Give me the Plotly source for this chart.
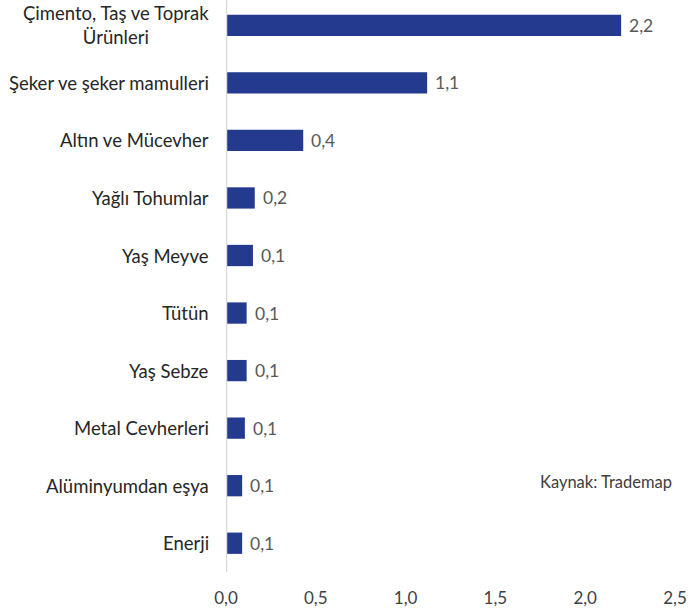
import plotly.graph_objects as go

# categories top to bottom
categories = [
    "Çimento, Taş ve Toprak<br>Ürünleri",
    "Şeker ve şeker mamulleri",
    "Altın ve Mücevher",
    "Yağlı Tohumlar",
    "Yaş Meyve",
    "Tütün",
    "Yaş Sebze",
    "Metal Cevherleri",
    "Alüminyumdan eşya",
    "Enerji",
]
values = [2.2, 1.12, 0.43, 0.16, 0.15, 0.115, 0.115, 0.105, 0.09, 0.09]
value_labels = ["2,2", "1,1", "0,4", "0,2", "0,1", "0,1", "0,1", "0,1", "0,1", "0,1"]
tick_vals = [0, 0.5, 1.0, 1.5, 2.0, 2.5]
tick_text = ["0,0", "0,5", "1,0", "1,5", "2,0", "2,5"]

font = "Lato, 'Open Sans', sans-serif"
bar_color = "#233A8E"

fig = go.Figure(go.Bar(
    x=values,
    y=list(range(len(categories))),
    orientation="h",
    marker=dict(color=bar_color, line=dict(width=0)),
    width=0.37,
    hoverinfo="skip",
))

annotations = []
for i, (cat, v, lab) in enumerate(zip(categories, values, value_labels)):
    # category label left of axis
    annotations.append(dict(
        x=0, y=i, xref="x", yref="y", text=cat, showarrow=False,
        xanchor="right", yanchor="middle", xshift=-15, align="center",
        font=dict(family=font, size=18.5, color="#262626"),
    ))
    # value label at bar end
    annotations.append(dict(
        x=v, y=i, xref="x", yref="y", text=lab, showarrow=False,
        xanchor="left", yanchor="middle", xshift=6,
        font=dict(family=font, size=17.5, color="#595959"),
    ))

annotations.append(dict(
    x=0.997, y=0.157, xref="paper", yref="paper", text="Kaynak: Trademap",
    showarrow=False, xanchor="right", yanchor="middle",
    font=dict(family=font, size=16.5, color="#404040"),
))

fig.update_layout(
    width=691, height=612,
    margin=dict(l=226, r=16, t=0, b=40),
    paper_bgcolor="white", plot_bgcolor="white",
    showlegend=False,
    annotations=annotations,
    xaxis=dict(
        range=[0, 2.5], tickvals=tick_vals, ticktext=tick_text,
        showgrid=False, zeroline=False, showline=False, ticks="",
        ticklabelstandoff=14,
        tickfont=dict(family=font, size=17, color="#404040"),
        fixedrange=True,
    ),
    yaxis=dict(
        range=[9.5, -0.44], showticklabels=False, showgrid=False,
        zeroline=False, showline=False, ticks="", fixedrange=True,
    ),
    shapes=[dict(
        type="line", xref="x", yref="paper", x0=0, x1=0, y0=0, y1=1,
        line=dict(color="#d9d9d9", width=2.5),
    )],
)

fig.write_html("out.html", config={"displayModeBar": False},
               post_script="document.body.style.margin='0';")
